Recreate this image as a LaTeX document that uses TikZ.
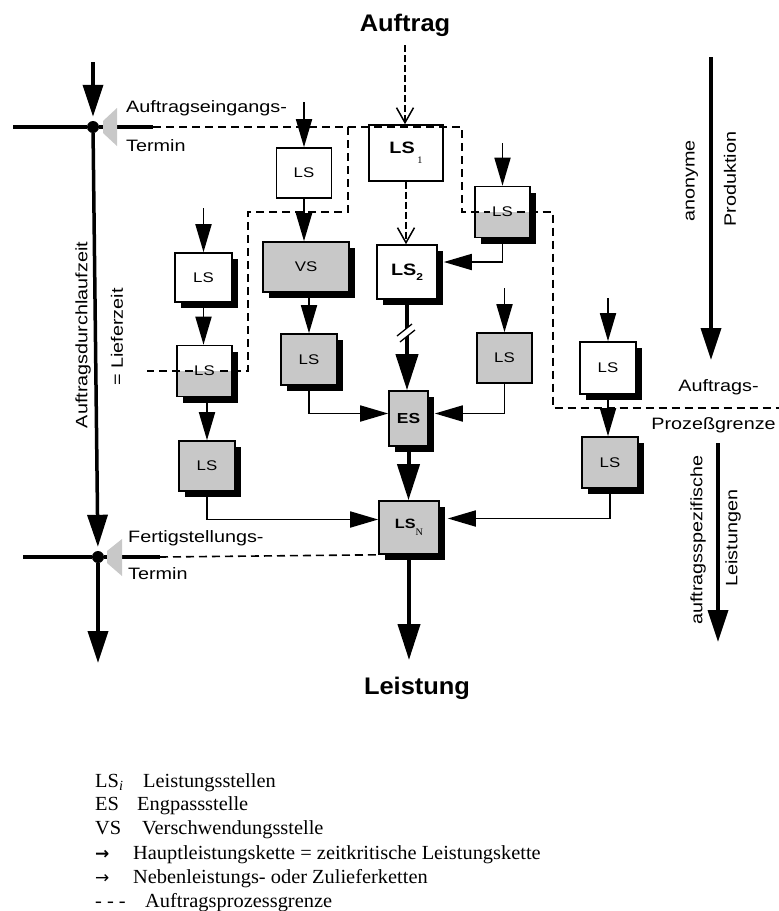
\documentclass[tikz,border=0pt]{standalone}
\usepackage{fontspec}
\setmainfont{Liberation Serif}
\newfontfamily\labfont[FakeStretch=1.2]{Liberation Sans}
\newfontfamily\titlefont[FakeStretch=1.06]{Liberation Sans}
\newfontfamily\legfont[FakeStretch=1.02]{Liberation Serif}
\newfontfamily\symfont{DejaVu Sans}
\usetikzlibrary{arrows.meta,shadows}
\definecolor{boxgray}{RGB}{200,200,200}
\definecolor{wedgegray}{RGB}{200,200,200}

\begin{document}
\begin{tikzpicture}[x=1pt,y=-1pt,
  lsbox/.style={draw=black,line width=1.6pt,fill=white,inner sep=0pt,
    minimum width=55pt,minimum height=50pt,
    font=\labfont\fontsize{14}{16}\selectfont},
  grayfill/.style={fill=boxgray},
  shadowed/.style={drop shadow={shadow xshift=6pt,shadow yshift=-6pt,fill=black,opacity=1}},
  halfgray/.style={path picture={\fill[boxgray] (path picture bounding box.west)
    rectangle (path picture bounding box.south east);}},
  thin/.style={line width=1.8pt,-{Triangle[length=28pt,width=16pt]}},
  thick/.style={line width=4pt,-{Triangle[length=36pt,width=22pt]}},
  axis/.style={line width=3.5pt,-{Triangle[length=32pt,width=20pt]}},
  dasharrow/.style={line width=2.4pt,dash pattern=on 7pt off 3pt,
    -{Straight Barb[length=15pt,width=17pt,line width=1.5pt]}},
  boundary/.style={line width=1.6pt,dash pattern=on 8pt off 5pt},
  lab/.style={font=\labfont\fontsize{16.5}{19}\selectfont,inner sep=0pt},
  titletext/.style={font=\titlefont\bfseries\fontsize{24}{28}\selectfont,inner sep=0pt},
  leg/.style={font=\legfont\fontsize{20}{24}\selectfont,anchor=base west,inner sep=0pt},
  dotnode/.style={circle,fill=black,inner sep=0pt,minimum size=12pt}
]
\useasboundingbox (0,0) rectangle (779,911);

% ---------- titles ----------
\node[titletext] (auftrag) at (405,25) {Auftrag};
\node[titletext] (leistung) at (417,688) {Leistung};

% ---------- service stations ----------
\node[lsbox,minimum width=74pt,minimum height=56pt,
  font=\labfont\bfseries\fontsize{16.5}{18}\selectfont] (ls1) at (406,153)
  {LS\,\raisebox{-1.1ex}{\legfont\mdseries\fontsize{10}{10}\selectfont 1}};
\node[lsbox] (lsa) at (304,173) {LS};
\node[lsbox,grayfill,shadowed,minimum width=86pt] (vs) at (306,267) {VS};
\node[lsbox,shadowed,minimum width=60pt,minimum height=54pt,
  font=\labfont\bfseries\fontsize{16.5}{18}\selectfont] (ls2) at (407,272)
  {LS\raisebox{-0.55ex}{\fontsize{10}{10}\selectfont 2}};
\node[lsbox,halfgray,shadowed,minimum height=51pt] (lsr1) at (502.5,212) {LS};
\node[lsbox,shadowed,minimum width=57pt,minimum height=49pt] (lsl1) at (203.5,277.5) {LS};
\node[lsbox,halfgray,shadowed,minimum height=51pt] (lsl2) at (204.5,371) {LS};
\node[lsbox,grayfill,shadowed,minimum width=56pt] (lsl3) at (207,466) {LS};
\node[lsbox,grayfill,shadowed,minimum width=56pt,minimum height=51pt] (lsv) at (309,359.5) {LS};
\node[lsbox,grayfill,shadowed,minimum width=39pt,minimum height=55pt,
  font=\labfont\bfseries\fontsize{14.5}{16}\selectfont] (es) at (408.5,418.5) {ES};
\node[lsbox,grayfill] (lsm) at (504.5,358) {LS};
\node[lsbox,shadowed,minimum width=56pt,minimum height=52pt] (lsf1) at (608,368) {LS};
\node[lsbox,grayfill,shadowed,minimum width=56pt,minimum height=51pt] (lsf2) at (610,462.5) {LS};
\node[lsbox,grayfill,shadowed,minimum width=60pt,minimum height=53pt,
  font=\labfont\bfseries\fontsize{13.5}{16}\selectfont] (lsn) at (409,527.5)
  {LS\raisebox{-1ex}{\legfont\mdseries\fontsize{10}{10}\selectfont N}};

% ---------- order process boundary ----------
\coordinate (b0) at (153,127);
\coordinate (b1) at (348,127);
\coordinate (b2) at (348,212);
\coordinate (b3) at (248,212);
\coordinate (b4) at (248,371);
\coordinate (b5) at (147,371);
\coordinate (b6) at (462,127);
\coordinate (b7) at (462,212);
\coordinate (b8) at (553,212);
\coordinate (b9) at (553,408);
\coordinate (b10) at (779,408);
\draw[boundary] (b0) -- (b1) -- (b2) -- (b3) -- (b4) -- ([xshift=14pt]lsl2.center);
\draw[boundary] ([xshift=-12pt]lsl2.center) -- (b5);
\draw[boundary] (b1) -- (b6) -- (b7) -- ([xshift=-13pt]lsr1.center);
\draw[boundary] ([xshift=14pt]lsr1.center) -- (b8) -- (b9) -- (b10);

% ---------- time axis on the left ----------
\node[dotnode] (dot1) at (93,127) {};
\node[dotnode] (dot2) at (98,557) {};
\coordinate (axtop) at (93,62);
\coordinate (axbot) at (98,663);
\coordinate (h1l) at (13,127);
\coordinate (h2l) at (23,557);
\coordinate (h2r) at (160,557);
\draw[line width=4pt] (h1l) -- (dot1) -- (b0);
\draw[line width=4pt] (h2l) -- (dot2) -- (h2r);
\draw[boundary] (h2r) -- (lsn.south west);
\draw[axis,shorten >=4pt] (axtop) -- (dot1);
\draw[axis,shorten >=4pt] (dot1) -- (dot2);
\draw[axis] (dot2) -- (axbot);
\fill[wedgegray] (103,121) -- (117,108) -- (117,146) -- (103,133) -- cycle;
\fill[wedgegray] (107,551) -- (122,539) -- (122,576) -- (107,563) -- cycle;

\node[lab] (eing1) at (126,108) [anchor=west] {Auftragseingangs-};
\node[lab] (eing2) at (126,146) [anchor=west] {Termin};
\node[lab] (fert1) at (128,538) [anchor=west] {Fertigstellungs-};
\node[lab] (fert2) at (128,574) [anchor=west] {Termin};
\node[lab,rotate=90] (dlz) at (83,335) {Auftragsdurchlaufzeit};
\node[lab,rotate=90] (lfz) at (117,337) {= Lieferzeit};

% ---------- axes on the right ----------
\coordinate (anonA) at (711,57);
\coordinate (anonB) at (711,360);
\coordinate (specA) at (718,443);
\coordinate (specB) at (718,642);
\draw[axis] (anonA) -- (anonB);
\draw[axis] (specA) -- (specB);
\node[lab,rotate=90] (anon) at (692,181) {anonyme};
\node[lab,rotate=90] (prod) at (730,179) {Produktion};
\node[lab] (apg1) at (718.5,387) {Auftrags-};
\node[lab] (apg2) at (713.5,425) {Prozeßgrenze};
\node[lab,rotate=90] (spez) at (698,540) {auftragsspezifische};
\node[lab,rotate=90] (leist) at (733,538) {Leistungen};

% ---------- main chain ----------
\draw[dasharrow,shorten <=9pt] (auftrag.south) -- (auftrag.south |- ls1.north);
\draw[dasharrow] (ls1.south) -- (ls1.south |- ls2.north);
\draw[thick] (ls2.south) -- (ls2.south |- es.north);
\fill[white] (397,336) -- (412,324) -- (415,330) -- (400,342) -- cycle;
\draw[line width=1.3pt] (397,336) -- (412,324);
\draw[line width=1.3pt] (400,342) -- (415,330);
\draw[thick] (es.south) -- (es.south |- lsn.north);
\coordinate (outend) at (409,660);
\draw[thick] (lsn.south) -- (outend);

% ---------- feeder chains ----------
\coordinate (fa) at (304,102);
\coordinate (fb) at (203.5,208);
\coordinate (fc) at (502.5,143);
\coordinate (fd) at (504.5,288);
\coordinate (fe) at (608,298);
\draw[thin] (fa) -- (lsa.north);
\draw[thin] (lsa.south) -- (lsa.south |- vs.north);
\draw[thin] (lsv.north |- vs.south) -- (lsv.north);
\draw[thin] (lsv.south) |- ([yshift=5pt]es.west);
\draw[thin] (fb) -- (lsl1.north);
\draw[thin] (lsl1.south) -- (lsl1.south |- lsl2.north);
\draw[thin] (lsl2.south -| lsl3.north) -- (lsl3.north);
\draw[thin] (lsl3.south) |- ([yshift=8pt]lsn.west);
\draw[thin] (fc) -- (lsr1.north);
\draw[thin] (lsr1.south) |- ([xshift=6pt,yshift=10pt]ls2.east);
\draw[thin] (fd) -- (lsm.north);
\draw[thin] (lsm.south) |- ([xshift=6pt,yshift=5pt]es.east);
\draw[thin] (fe) -- (lsf1.north);
\draw[thin] (lsf1.south) -- (lsf1.south |- lsf2.north);
\draw[thin] (lsf2.south) |- ([xshift=8pt,yshift=9pt]lsn.east);

% ---------- key ----------
\node[leg] (k1) at (95,787) {LS\textsubscript{\itshape i}};
\node[leg] (t1) at (143,787) {Leistungsstellen};
\node[leg] (k2) at (95,810) {ES};
\node[leg] (t2) at (137,810) {Engpassstelle};
\node[leg] (k3) at (95,834) {VS};
\node[leg] (t3) at (142,834) {Verschwendungsstelle};
\node[leg,font=\symfont\bfseries\fontsize{17}{19}\selectfont] (k4) at (95,859) {→};
\node[leg] (t4) at (133,859) {Hauptleistungskette = zeitkritische Leistungskette};
\node[leg,font=\symfont\fontsize{17}{19}\selectfont] (k5) at (95,883) {→};
\node[leg] (t5) at (133,883) {Nebenleistungs- oder Zulieferketten};
\node[leg] (k6) at (95,907) {- - -};
\node[leg] (t6) at (145,907) {Auftragsprozessgrenze};
\end{tikzpicture}
\end{document}
